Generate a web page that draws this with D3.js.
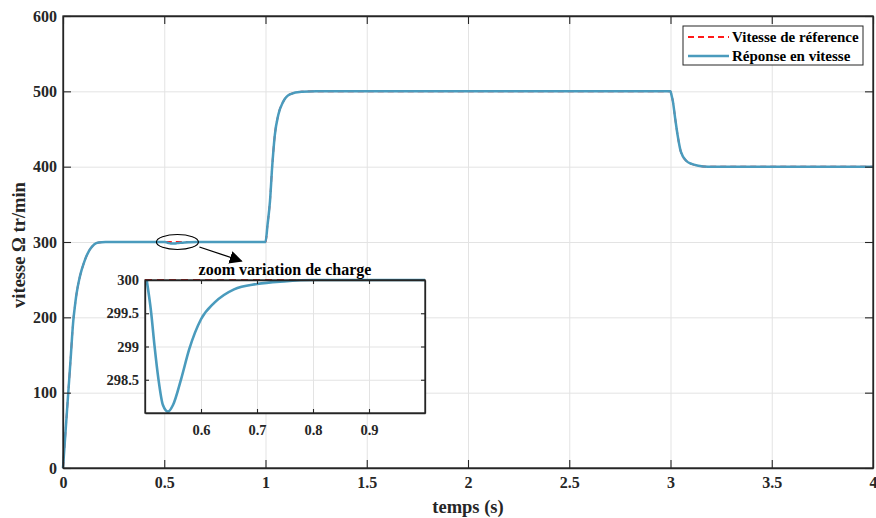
<!DOCTYPE html>
<html>
<head>
<meta charset="utf-8">
<script src="https://cdn.jsdelivr.net/npm/d3@7"></script>
<style>
  html, body { margin: 0; padding: 0; background: #ffffff; }
  svg { display: block; }
  .axis path, .axis line { stroke: #262626; }
  .axis text { font-family: "Liberation Serif", "Times New Roman", serif; font-weight: bold; fill: #262626; }
  .grid line { stroke: #e3e3e3; stroke-width: 1; }
  .grid path { display: none; }
</style>
</head>
<body>
<svg id="chart" width="876" height="518"></svg>
<script>
// Consigne de vitesse (tr/min) en fonction du temps (s)
const tempsRef = [0, 0.013, 0.026, 0.039, 0.045, 0.051, 0.058, 0.064, 0.071, 0.079, 0.088, 0.098, 0.108, 0.117, 0.128, 0.138, 0.155, 0.175, 0.21,
  1.0, 1.010, 1.022, 1.033, 1.046, 1.063, 1.087, 1.12, 1.178, 1.25,
  3.0, 3.005, 3.012, 3.023, 3.035, 3.051, 3.079, 3.104, 3.137, 3.186, 3.25, 4.0];
const vitesseRef = [0, 50, 100, 150, 175, 196, 213, 226, 238, 249, 259, 268, 276, 282, 288, 292, 297, 299.3, 300,
  300, 322.6, 353.5, 400, 442, 468.6, 486, 496, 499.5, 500,
  500, 495, 486.3, 464.2, 442, 419.9, 407.5, 403.6, 401.3, 400, 400, 400];

// Vitesse mesurée : suit la consigne, avec la chute due à la variation de charge à t = 0.5 s
const tempsMes = [0, 0.013, 0.026, 0.039, 0.045, 0.051, 0.058, 0.064, 0.071, 0.079, 0.088, 0.098, 0.108, 0.117, 0.128, 0.138, 0.155, 0.175, 0.21,
  0.503, 0.511, 0.517, 0.524, 0.532, 0.541, 0.550, 0.5645, 0.579, 0.6, 0.624, 0.659, 0.7, 0.748, 0.8,
  1.0, 1.010, 1.022, 1.033, 1.046, 1.063, 1.087, 1.12, 1.178, 1.25,
  3.0, 3.005, 3.012, 3.023, 3.035, 3.051, 3.079, 3.104, 3.137, 3.186, 3.25, 4.0];
const vitesseMes = [0, 50, 100, 150, 175, 196, 213, 226, 238, 249, 259, 268, 276, 282, 288, 292, 297, 299.3, 300,
  300, 299.51, 299.01, 298.51, 298.12, 298.02, 298.12, 298.51, 298.96, 299.41, 299.66, 299.86, 299.94, 299.98, 300,
  300, 322.6, 353.5, 400, 442, 468.6, 486, 496, 499.5, 500,
  500, 495, 486.3, 464.2, 442, 419.9, 407.5, 403.6, 401.3, 400, 400, 400];

const xTicks = [0, 0.5, 1, 1.5, 2, 2.5, 3, 3.5, 4];
const yTicks = [0, 100, 200, 300, 400, 500, 600];
const zoomXTicks = [0.6, 0.7, 0.8, 0.9];
const zoomYTicks = [298.5, 299, 299.5, 300];

const legendLabels = ["Vitesse de réference", "Réponse en vitesse"];

const colRef = "#ff1a1a";
const colMes = "#4a9bbd";
const axisCol = "#262626";

const svg = d3.select("#chart");

const ref = tempsRef.map((t, i) => ({ t, v: vitesseRef[i] }));
const mes = tempsMes.map((t, i) => ({ t, v: vitesseMes[i] }));

function drawGrid(g, x, y, xt, yt) {
  const [x0, x1] = x.range();
  const [y0, y1] = y.range();
  g.append("g").attr("class", "grid").attr("transform", `translate(0,${y0})`)
    .call(d3.axisBottom(x).tickValues(xt).tickSize(-(y0 - y1)).tickFormat(""));
  g.append("g").attr("class", "grid").attr("transform", `translate(${x0},0)`)
    .call(d3.axisLeft(y).tickValues(yt).tickSize(-(x1 - x0)).tickFormat(""));
}

function drawAxesFrame(g, x, y, xt, yt, tick, fontSize, padX, padY) {
  const [x0, x1] = x.range();
  const [y0, y1] = y.range();
  const fmt = d => String(+d.toFixed(2));
  g.append("g").attr("class", "axis").attr("transform", `translate(0,${y0})`)
    .call(d3.axisBottom(x).tickValues(xt).tickSize(-tick).tickSizeOuter(0).tickPadding(padX).tickFormat(fmt));
  g.append("g").attr("class", "axis").attr("transform", `translate(${x0},0)`)
    .call(d3.axisLeft(y).tickValues(yt).tickSize(-tick).tickSizeOuter(0).tickPadding(padY).tickFormat(fmt));
  g.append("g").attr("class", "axis").attr("transform", `translate(0,${y1})`)
    .call(d3.axisTop(x).tickValues(xt).tickSize(-tick).tickSizeOuter(0).tickFormat(""));
  g.append("g").attr("class", "axis").attr("transform", `translate(${x1},0)`)
    .call(d3.axisRight(y).tickValues(yt).tickSize(-tick).tickSizeOuter(0).tickFormat(""));
  g.selectAll(".axis text").style("font-size", fontSize + "px");
  g.selectAll(".axis path").attr("stroke-width", 1.3);
  g.selectAll(".axis line").attr("stroke-width", 1.1);
  g.append("rect").attr("x", x0).attr("y", y1).attr("width", x1 - x0).attr("height", y0 - y1)
    .attr("fill", "none").attr("stroke", axisCol).attr("stroke-width", 1.3);
}

// ---------- main axes ----------
const x = d3.scaleLinear().domain([0, 4]).range([63, 873]);
const y = d3.scaleLinear().domain([0, 600]).range([468, 16]);

const main = svg.append("g");
drawGrid(main, x, y, xTicks, yTicks);

const line = d3.line().x(d => x(d.t)).y(d => y(d.v)).curve(d3.curveMonotoneX);

main.append("path").datum(ref).attr("d", line)
  .attr("fill", "none").attr("stroke", colRef).attr("stroke-width", 1.8).attr("stroke-dasharray", "6,4");
main.append("path").datum(mes).attr("d", line)
  .attr("fill", "none").attr("stroke", colMes).attr("stroke-width", 2.5);

drawAxesFrame(main, x, y, xTicks, yTicks, 8, 16, 9, 6);

// axis titles
main.append("text").attr("x", x(2)).attr("y", 513)
  .attr("text-anchor", "middle")
  .style("font-family", "Liberation Serif, serif").style("font-weight", "bold").style("font-size", "18.5px")
  .attr("fill", axisCol).text("temps (s)");
main.append("text").attr("transform", `translate(25,${y(296)}) rotate(-90)`)
  .attr("text-anchor", "middle")
  .style("font-family", "Liberation Serif, serif").style("font-weight", "bold").style("font-size", "18.5px")
  .attr("fill", axisCol).text("vitesse Ω tr/min");

// ---------- legend ----------
const lg = main.append("g").attr("transform", "translate(683,26)");
lg.append("rect").attr("width", 180).attr("height", 39)
  .attr("fill", "#ffffff").attr("stroke", axisCol).attr("stroke-width", 1);
const legendItems = [
  { label: legendLabels[0], color: colRef, dash: "6,4", w: 1.8 },
  { label: legendLabels[1], color: colMes, dash: null, w: 2.5 }
];
legendItems.forEach((it, i) => {
  const yy = 11 + i * 19;
  lg.append("line").attr("x1", 5).attr("x2", 46).attr("y1", yy).attr("y2", yy)
    .attr("stroke", it.color).attr("stroke-width", it.w).attr("stroke-dasharray", it.dash);
  lg.append("text").attr("x", 49).attr("y", yy + 5)
    .style("font-family", "Liberation Serif, serif").style("font-weight", "bold").style("font-size", "15px")
    .attr("fill", "#000").text(it.label);
});

// ---------- zoom marker ----------
const ell = { cx: x(0.565), cy: y(300), rx: 21, ry: 7.5 };
main.append("ellipse").attr("cx", ell.cx).attr("cy", ell.cy).attr("rx", ell.rx).attr("ry", ell.ry)
  .attr("fill", "none").attr("stroke", "#000").attr("stroke-width", 1.1);

svg.append("defs").append("marker").attr("id", "arrow")
  .attr("viewBox", "0 0 10 10").attr("refX", 9).attr("refY", 5)
  .attr("markerWidth", 13).attr("markerHeight", 13).attr("markerUnits", "userSpaceOnUse")
  .attr("orient", "auto")
  .append("path").attr("d", "M0,0 L10,5 L0,10 Z").attr("fill", "#000");

main.append("line").attr("x1", ell.cx + ell.rx + 1).attr("y1", ell.cy + 5)
  .attr("x2", ell.cx + 64).attr("y2", ell.cy + 19)
  .attr("stroke", "#000").attr("stroke-width", 1.3).attr("marker-end", "url(#arrow)");

// ---------- inset ----------
const zx = d3.scaleLinear().domain([0.5, 1.0]).range([145, 425]);
const zy = d3.scaleLinear().domain([298, 300]).range([413, 280]);
const inset = svg.append("g");
inset.append("rect").attr("x", 145).attr("y", 280).attr("width", 280).attr("height", 133).attr("fill", "#fff");
drawGrid(inset, zx, zy, zoomXTicks, zoomYTicks);

const zline = d3.line().x(d => zx(d.t)).y(d => zy(d.v)).curve(d3.curveMonotoneX);
inset.append("defs").append("clipPath").attr("id", "zclip")
  .append("rect").attr("x", 145).attr("y", 278).attr("width", 280).attr("height", 137);
const zref = [{ t: 0.5, v: 300 }, { t: 1.0, v: 300 }];
const zmes = mes.filter(d => d.t >= 0.5 && d.t <= 1.0).concat([{ t: 1.0, v: 300 }]);
inset.append("path").datum(zref).attr("d", zline).attr("clip-path", "url(#zclip)")
  .attr("fill", "none").attr("stroke", colRef).attr("stroke-width", 2.2).attr("stroke-dasharray", "7,5");
inset.append("path").datum(zmes).attr("d", zline).attr("clip-path", "url(#zclip)")
  .attr("fill", "none").attr("stroke", colMes).attr("stroke-width", 2.6);

drawAxesFrame(inset, zx, zy, zoomXTicks, zoomYTicks, 4, 14.5, 12, 6);

inset.append("text").attr("x", (zx.range()[0] + zx.range()[1]) / 2).attr("y", 275)
  .attr("text-anchor", "middle")
  .style("font-family", "Liberation Serif, serif").style("font-weight", "bold").style("font-size", "16px")
  .attr("fill", "#000").text("zoom variation de charge");
</script>
</body>
</html>
